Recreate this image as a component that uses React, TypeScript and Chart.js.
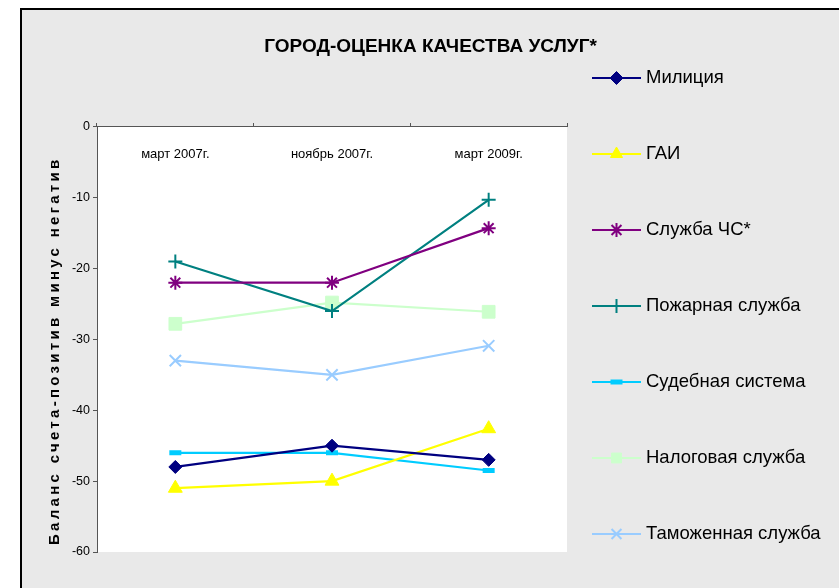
import React, { useEffect, useRef } from "react";
import { Chart, registerables } from "chart.js";
import { drawPoint } from "chart.js/helpers";

Chart.register(...registerables);

// ---- data ----
const categories = ["март 2007г.", "ноябрь 2007г.", "март 2009г."];
const seriesNames = [
  "Милиция",
  "ГАИ",
  "Служба ЧС*",
  "Пожарная служба",
  "Судебная система",
  "Налоговая служба",
  "Таможенная служба",
];
const militsiya = [-48, -45, -47];
const gai = [-51, -50, -42.6];
const sluzhbaChS = [-22, -22, -14.3];
const pozharnaya = [-19, -26, -10.3];
const sudebnaya = [-46, -46, -48.5];
const nalogovaya = [-27.8, -24.8, -26.1];
const tamozhennaya = [-33, -35, -30.9];
const yTicks = [0, -10, -20, -30, -40, -50, -60];
const chartTitle = "ГОРОД-ОЦЕНКА КАЧЕСТВА УСЛУГ*";
const yTitle = "Баланс счета-позитив минус негатив";

// ---- styles ----
const SANS = "'Liberation Sans', Arial, sans-serif";
const AXIS = "#555555";

const seriesStyles = [
  { color: "#000080", pointStyle: "rectRot", radius: 6.5, bw: 1 },
  { color: "#FFFF00", pointStyle: "triangle", radius: 8, bw: 1 },
  { color: "#800080", pointStyle: "star", radius: 7, bw: 2 },
  { color: "#008080", pointStyle: "cross", radius: 7, bw: 2 },
  { color: "#00CCFF", pointStyle: "line", radius: 6, bw: 5 },
  { color: "#CCFFCC", pointStyle: "rect", radius: 9, bw: 1 },
  { color: "#99CCFF", pointStyle: "crossRot", radius: 8, bw: 2 },
];
const seriesValues = [militsiya, gai, sluzhbaChS, pozharnaya, sudebnaya, nalogovaya, tamozhennaya];

const plotBgPlugin = {
  id: "plotBg",
  beforeDraw(chart: any) {
    const { ctx, chartArea } = chart;
    ctx.save();
    ctx.fillStyle = "#ffffff";
    ctx.fillRect(chartArea.left, chartArea.top, chartArea.right - chartArea.left, chartArea.bottom - chartArea.top);
    ctx.restore();
  },
};

const yTitlePlugin = {
  id: "yTitleSpaced",
  afterDraw(chart: any) {
    const { ctx, chartArea } = chart;
    ctx.save();
    ctx.translate(chartArea.left - 42, chartArea.bottom - 7);
    ctx.rotate(-Math.PI / 2);
    ctx.font = `bold 15px ${SANS}`;
    (ctx as any).letterSpacing = "3.3px";
    ctx.fillStyle = "#000";
    ctx.textAlign = "left";
    ctx.textBaseline = "middle";
    ctx.fillText(yTitle, 0, 0);
    ctx.restore();
  },
};

const sideLegendPlugin = {
  id: "sideLegend",
  afterDraw(chart: any) {
    const { ctx, chartArea } = chart;
    const x0 = chartArea.right + 25;
    const x1 = x0 + 49;
    const xm = (x0 + x1) / 2;
    chart.data.datasets.forEach((ds: any, i: number) => {
      const y = 68 + i * 76;
      ctx.save();
      ctx.strokeStyle = ds.borderColor;
      ctx.lineWidth = 2;
      ctx.beginPath();
      ctx.moveTo(x0, y);
      ctx.lineTo(x1, y);
      ctx.stroke();
      ctx.fillStyle = ds.pointBackgroundColor;
      ctx.strokeStyle = ds.pointBorderColor;
      ctx.lineWidth = ds.pointBorderWidth;
      drawPoint(
        ctx,
        { pointStyle: ds.pointStyle, rotation: 0, radius: Math.min(ds.pointRadius, 7), borderWidth: ds.pointBorderWidth },
        xm,
        y
      );
      ctx.fillStyle = "#000";
      ctx.font = `18.5px ${SANS}`;
      ctx.textAlign = "left";
      ctx.textBaseline = "middle";
      ctx.fillText(ds.label, x1 + 5, y);
      ctx.restore();
    });
  },
};

export default function App() {
  const ref = useRef<HTMLCanvasElement | null>(null);

  useEffect(() => {
    if (!ref.current) return;
    const datasets = seriesNames.map((name, i) => {
      const s = seriesStyles[i];
      return {
        label: name,
        data: seriesValues[i],
        borderColor: s.color,
        backgroundColor: s.color,
        borderWidth: 2.2,
        pointStyle: s.pointStyle,
        pointRadius: s.radius,
        pointHoverRadius: s.radius,
        pointBackgroundColor: s.color,
        pointBorderColor: s.color,
        pointBorderWidth: s.bw,
        tension: 0,
        fill: false,
        yAxisID: "y",
      };
    });
    const chart = new Chart(ref.current, {
      type: "line",
      data: { labels: categories, datasets: datasets as any },
      options: {
        animation: false,
        responsive: false,
        devicePixelRatio: 1,
        layout: { padding: { left: 0, right: 0, bottom: 36, top: 0 } },
        plugins: {
          legend: { display: false },
          tooltip: { enabled: false },
          title: {
            display: true,
            text: chartTitle,
            color: "#000",
            font: { family: SANS, size: 19, weight: "bold" },
            padding: { top: 25, bottom: 69 },
          },
        },
        scales: {
          x: {
            type: "category",
            position: { y: 0 } as any,
            offset: true,
            grid: { offset: true, drawOnChartArea: false, tickLength: -4, color: AXIS, tickWidth: 1 },
            border: { color: AXIS, width: 1 },
            ticks: { font: { family: SANS, size: 13 }, color: "#000", padding: 24, maxRotation: 0, autoSkip: false },
          },
          y: {
            min: -60,
            max: 0,
            afterBuildTicks: (s: any) => {
              s.ticks = yTicks.map((v) => ({ value: v }));
            },
            afterFit: (s: any) => {
              s.width = 75;
            },
            grid: { drawOnChartArea: false, tickLength: 4, color: AXIS },
            border: { color: AXIS, width: 1 },
            ticks: { font: { family: SANS, size: 12.5 }, color: "#000", padding: 3 },
          },
          legendSpace: {
            type: "linear",
            position: "right",
            display: true,
            grid: { display: false, drawTicks: false },
            border: { display: false },
            ticks: { display: false },
            afterFit: (s: any) => {
              s.width = 272;
            },
          } as any,
        },
      },
      plugins: [plotBgPlugin, yTitlePlugin, sideLegendPlugin],
    });
    return () => chart.destroy();
  }, []);

  return (
    <div
      style={{
        position: "fixed",
        left: 20,
        top: 8,
        right: 0,
        bottom: 0,
        borderTop: "2px solid #000",
        borderLeft: "2px solid #000",
        background: "#e9e9e9",
        overflow: "hidden",
      }}
    >
      <canvas ref={ref} width={817} height={578} style={{ display: "block", width: 817, height: 578 }} />
    </div>
  );
}
